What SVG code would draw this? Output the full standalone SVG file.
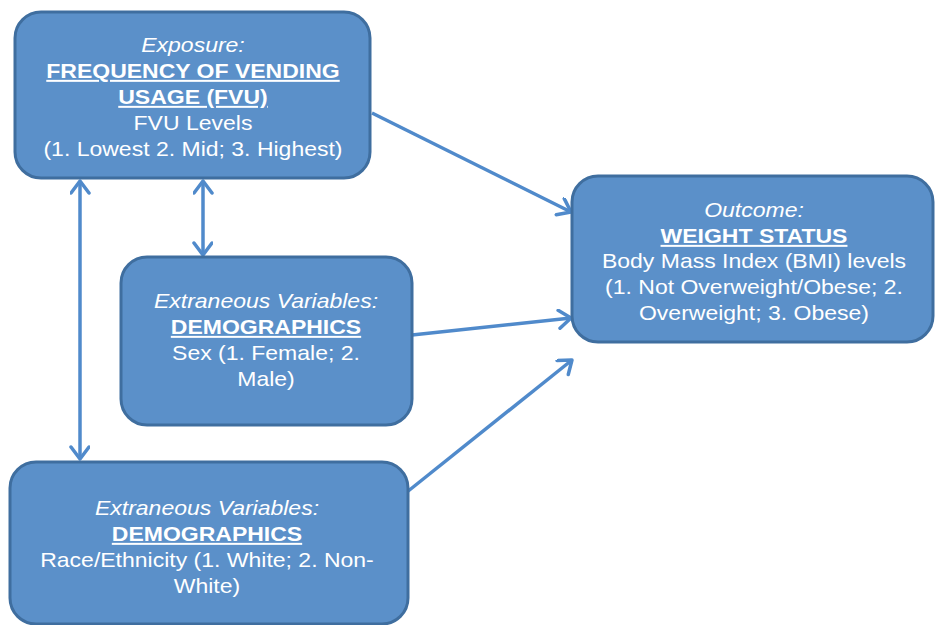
<svg xmlns="http://www.w3.org/2000/svg" width="935" height="625" viewBox="0 0 935 625">
<defs>
<style>
.box{fill:#5b90c9;stroke:#3f6e9f;stroke-width:3}
.t{font-family:"Liberation Sans",Arial,sans-serif;font-size:20px;fill:#ffffff;text-anchor:middle}
.i{font-style:italic}
.b{font-weight:bold;text-decoration:underline}
.c{fill:none;stroke:#508acb;stroke-width:3.5}
</style>
<marker id="ah" markerUnits="userSpaceOnUse" markerWidth="30" markerHeight="30" refX="14" refY="10" orient="auto-start-reverse" viewBox="0 0 30 30">
<path d="M2,1 L14,10 L2,19" fill="none" stroke="#508acb" stroke-width="3.5" stroke-linecap="round" stroke-linejoin="round"/>
</marker>
</defs>
<rect width="935" height="625" fill="#ffffff"/>
<g id="connectors">
<line class="c" x1="372" y1="113" x2="571" y2="212" marker-end="url(#ah)"/>
<line class="c" x1="412" y1="335" x2="571" y2="318" marker-end="url(#ah)"/>
<line class="c" x1="407" y1="492" x2="572" y2="360" marker-end="url(#ah)"/>
<line class="c" x1="80" y1="181" x2="80" y2="459" marker-start="url(#ah)" marker-end="url(#ah)"/>
<line class="c" x1="203" y1="181" x2="203" y2="255" marker-start="url(#ah)" marker-end="url(#ah)"/>
</g>
<g id="exposure">
<rect class="box" x="15" y="12" width="355" height="166" rx="26"/>
<g transform="matrix(1.15,0,0,1,-28.95,0)">
<text class="t i" x="193" y="52">Exposure:</text>
<text class="t b" x="193" y="78">FREQUENCY OF VENDING</text>
<text class="t b" x="193" y="104">USAGE (FVU)</text>
<text class="t" x="193" y="130">FVU Levels</text>
<text class="t" x="193" y="156">(1. Lowest 2. Mid; 3. Highest)</text>
</g>
</g>
<g id="outcome">
<rect class="box" x="572" y="176" width="361" height="166" rx="26"/>
<g transform="matrix(1.15,0,0,1,-113.1,0)">
<text class="t i" x="754" y="217">Outcome:</text>
<text class="t b" x="754" y="243">WEIGHT STATUS</text>
<text class="t" x="754" y="268">Body Mass Index (BMI) levels</text>
<text class="t" x="754" y="294">(1. Not Overweight/Obese; 2.</text>
<text class="t" x="754" y="320">Overweight; 3. Obese)</text>
</g>
</g>
<g id="sex">
<rect class="box" x="121" y="257" width="291" height="168" rx="26"/>
<g transform="matrix(1.15,0,0,1,-39.9,0)">
<text class="t i" x="266" y="308">Extraneous Variables:</text>
<text class="t b" x="266" y="334">DEMOGRAPHICS</text>
<text class="t" x="266" y="360">Sex (1. Female; 2.</text>
<text class="t" x="266" y="386">Male)</text>
</g>
</g>
<g id="race">
<rect class="box" x="10" y="462" width="398" height="162" rx="26"/>
<g transform="matrix(1.15,0,0,1,-31.05,0)">
<text class="t i" x="207" y="515">Extraneous Variables:</text>
<text class="t b" x="207" y="541">DEMOGRAPHICS</text>
<text class="t" x="207" y="567">Race/Ethnicity (1. White; 2. Non-</text>
<text class="t" x="207" y="593">White)</text>
</g>
</g>
</svg>
